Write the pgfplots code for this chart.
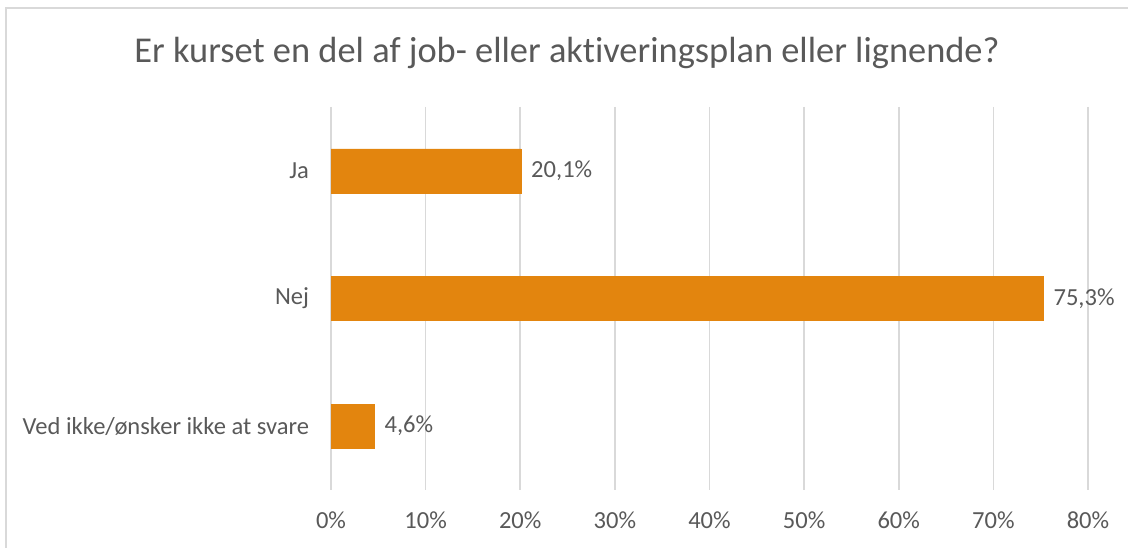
\documentclass[border=0pt]{standalone}
\usepackage{pgfplots}
\pgfplotsset{compat=1.18}
\usepackage{fontspec}
\setmainfont[Ligatures=NoCommon]{Carlito}
\definecolor{barc}{HTML}{E3850E}
\definecolor{txt}{HTML}{595959}
\definecolor{grd}{HTML}{D9D9D9}
\begin{document}
\begin{tikzpicture}[x=0.75pt,y=0.75pt]
\useasboundingbox (0,0) rectangle (1128,548);
\draw[grd, line width=1.2pt] (6,0) -- (6,540) -- (1128,540);
\node[text=txt, font=\fontsize{27.3}{32}\selectfont] at (567,495) {Er kurset en del af job- eller aktiveringsplan eller lignende?};
\begin{axis}[
  at={(532.125pt,187.125pt)}, anchor=center,
  scale only axis, width=567.75pt, height=287.25pt,
  xbar, bar width=33pt,
  xmin=0, xmax=80, ymin=-0.5, ymax=2.5, y dir=reverse,
  xtick={0,10,...,80},
  xticklabels={0\%,10\%,20\%,30\%,40\%,50\%,60\%,70\%,80\%},
  ytick={0,1,2},
  yticklabels={Ja,Nej,Ved ikke/ønsker ikke at svare},
  xmajorgrids, major grid style={grd, line width=1.2pt},
  axis line style={draw=none},
  major tick length=0pt,
  tick label style={text=txt, font=\fontsize{18.4}{22}\selectfont},
  xticklabel style={yshift=-13pt},
  yticklabel style={xshift=-13pt},
  nodes near coords={\pgfmathprintnumber[fixed,precision=1,fixed zerofill,use comma,assume math mode=true]{\pgfplotspointmeta}\%},
  nodes near coords style={text=txt, font=\fontsize{18.4}{22}\selectfont, anchor=west, xshift=4pt},
  point meta=x,
]
\addplot[fill=barc, draw=barc] coordinates {(20.1,0) (75.3,1) (4.6,2)};
\end{axis}
\end{tikzpicture}
\end{document}
